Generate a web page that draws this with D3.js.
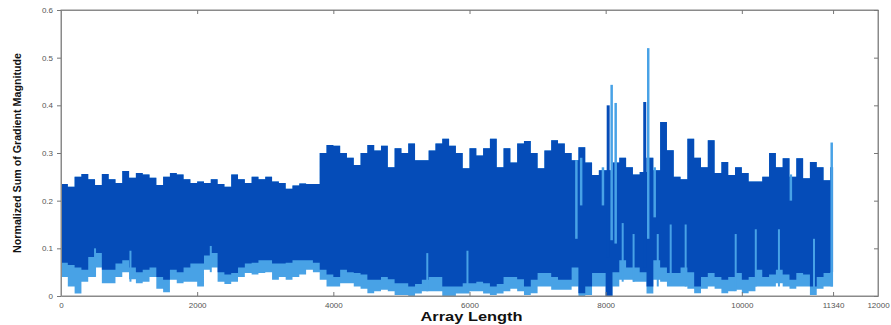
<!DOCTYPE html>
<html>
<head>
<meta charset="utf-8">
<script src="https://cdn.jsdelivr.net/npm/d3@7"></script>
<style>
  body { margin: 0; background: #fff; }
  text { font-family: "Liberation Sans", Arial, sans-serif; }
</style>
</head>
<body>
<div id="chart"></div>
<script>
// envelope of the signal, one value per 100 samples
const binSize = 100;
const arrayLength = 11340;

const darkTop = [
  0.235,0.229,0.25,0.256,0.245,0.233,0.256,0.245,0.237,0.262,
  0.248,0.258,0.255,0.248,0.233,0.25,0.258,0.255,0.245,0.237,
  0.24,0.237,0.245,0.235,0.229,0.255,0.245,0.237,0.25,0.245,
  0.25,0.24,0.237,0.225,0.232,0.236,0.235,0.235,0.30,0.317,
  0.315,0.30,0.29,0.275,0.30,0.317,0.305,0.315,0.27,0.31,
  0.30,0.32,0.285,0.285,0.305,0.32,0.33,0.315,0.30,0.268,
  0.31,0.295,0.31,0.33,0.27,0.31,0.28,0.32,0.325,0.30,
  0.268,0.305,0.327,0.32,0.30,0.285,0.312,0.28,0.254,0.264,
  0.264,0.28,0.29,0.27,0.255,0.26,0.29,0.264,0.365,0.306,
  0.25,0.245,0.33,0.29,0.27,0.327,0.258,0.281,0.254,0.27,
  0.258,0.24,0.24,0.25,0.30,0.27,0.289,0.25,0.289,0.247,
  0.281,0.27,0.243,0.27
];

const darkBottom = [
  0.07,0.065,0.06,0.055,0.082,0.09,0.055,0.055,0.068,0.075,
  0.06,0.05,0.055,0.06,0.04,0.034,0.055,0.05,0.06,0.068,
  0.068,0.085,0.09,0.05,0.045,0.048,0.06,0.068,0.07,0.075,
  0.075,0.068,0.068,0.07,0.075,0.075,0.075,0.07,0.055,0.045,
  0.04,0.055,0.05,0.048,0.045,0.034,0.034,0.04,0.035,0.027,
  0.027,0.02,0.025,0.034,0.04,0.04,0.02,0.02,0.02,0.027,
  0.027,0.03,0.027,0.02,0.025,0.04,0.04,0.035,0.02,0.034,
  0.048,0.048,0.04,0.034,0.034,0.06,0.006,0.02,0.048,0.048,
  0.0,0.05,0.075,0.06,0.06,0.05,0.02,0.075,0.06,0.048,
  0.048,0.06,0.05,0.02,0.04,0.048,0.04,0.034,0.04,0.048,
  0.034,0.04,0.055,0.04,0.045,0.055,0.045,0.034,0.048,0.045,
  0.02,0.04,0.048,0.05
];

const lightBottom = [
  0.04,0.02,0.005,0.03,0.04,0.06,0.027,0.027,0.04,0.05,
  0.035,0.027,0.03,0.04,0.015,0.008,0.034,0.027,0.03,0.03,
  0.02,0.055,0.06,0.03,0.025,0.03,0.04,0.048,0.045,0.048,
  0.05,0.034,0.04,0.034,0.04,0.045,0.055,0.05,0.034,0.02,
  0.02,0.027,0.027,0.02,0.015,0.006,0.01,0.013,0.01,0.002,
  0.002,0,0.005,0.01,0.01,0.01,0,0,0.005,0.005,
  0.01,0.01,0.005,0.002,0.005,0.01,0.015,0.01,0.002,0.006,
  0.02,0.02,0.013,0.013,0.013,0.02,0,0.002,0.02,0.02,
  0,0.02,0.034,0.034,0.03,0.03,0.005,0.034,0.03,0.02,
  0.02,0.02,0.015,0.006,0.015,0.02,0.015,0.006,0.01,0.013,
  0.006,0.01,0.02,0.02,0.02,0.027,0.02,0.015,0.02,0.02,
  0.002,0.015,0.02,0.02
];

// narrow spikes
const darkPeakX = [8037, 8574];
const darkPeakTop = [0.40, 0.407];
const darkPeakBottom = [0.08, 0.06];

const lightPeakX = [7570, 7640, 7960, 8088, 8147, 8625, 8720, 10720, 11320];
const lightPeakTop = [0.285, 0.29, 0.27, 0.443, 0.405, 0.52, 0.27, 0.255, 0.322];
const lightPeakBottom = [0.12, 0.19, 0.19, 0.117, 0.11, 0.12, 0.165, 0.2, 0.02];

// light streaks showing through the lower part of the band
const streakX = [500, 1020, 2200, 5380, 5970, 8250, 8410, 8765, 8955, 9175, 9910, 10205, 10545, 11060];
const streakTop = [0.1, 0.095, 0.105, 0.09, 0.095, 0.153, 0.13, 0.13, 0.15, 0.15, 0.13, 0.14, 0.14, 0.12];
const streakBottom = [0.04, 0.03, 0.05, 0.01, 0.01, 0.03, 0.03, 0.02, 0.03, 0.02, 0.01, 0.02, 0.02, 0.01];

const xTicks = [0, 2000, 4000, 6000, 8000, 10000, 11340, 12000];
const yTicks = [0, 0.1, 0.2, 0.3, 0.4, 0.5, 0.6];

const width = 891;
const height = 325;
const margin = { top: 10, right: 13, bottom: 29, left: 61 };

const darkColor = "#054cb8";
const lightColor = "#48a2e6";

const svg = d3.select("#chart")
  .append("svg")
  .attr("width", width)
  .attr("height", height);

const x = d3.scaleLinear()
  .domain([0, 12000])
  .range([margin.left, width - margin.right]);

const y = d3.scaleLinear()
  .domain([0, 0.6])
  .range([height - margin.bottom, margin.top]);

const bins = darkTop.map((t, i) => ({
  x: i * binSize,
  top: t,
  bottom: darkBottom[i],
  lightBottom: lightBottom[i]
}));
// closing point so the last step ends at the array length
bins.push({ ...bins[bins.length - 1], x: arrayLength });

const plot = svg.append("g");

const lightArea = d3.area()
  .curve(d3.curveStepAfter)
  .x(d => x(d.x))
  .y0(d => y(d.lightBottom))
  .y1(d => y(d.top));

const darkArea = d3.area()
  .curve(d3.curveStepAfter)
  .x(d => x(d.x))
  .y0(d => y(d.bottom))
  .y1(d => y(d.top));

plot.append("path")
  .datum(bins)
  .attr("d", lightArea)
  .attr("fill", lightColor);

plot.append("path")
  .datum(bins)
  .attr("d", darkArea)
  .attr("fill", darkColor);

plot.selectAll("line.streak")
  .data(streakX)
  .join("line")
  .attr("class", "streak")
  .attr("x1", d => x(d)).attr("x2", d => x(d))
  .attr("y1", (d, i) => y(streakBottom[i]))
  .attr("y2", (d, i) => y(streakTop[i]))
  .attr("stroke", lightColor)
  .attr("stroke-width", 2);

plot.selectAll("line.dpeak")
  .data(darkPeakX)
  .join("line")
  .attr("class", "dpeak")
  .attr("x1", d => x(d)).attr("x2", d => x(d))
  .attr("y1", (d, i) => y(darkPeakBottom[i]))
  .attr("y2", (d, i) => y(darkPeakTop[i]))
  .attr("stroke", darkColor)
  .attr("stroke-width", 3);

plot.selectAll("line.lpeak")
  .data(lightPeakX)
  .join("line")
  .attr("class", "lpeak")
  .attr("x1", d => x(d)).attr("x2", d => x(d))
  .attr("y1", (d, i) => y(lightPeakBottom[i]))
  .attr("y2", (d, i) => y(lightPeakTop[i]))
  .attr("stroke", lightColor)
  .attr("stroke-width", 2.5);

// box + ticks, MATLAB style (ticks inside)
const axisColor = "#8a8a8a";
const tickColor = "#555";

svg.append("rect")
  .attr("x", x(0)).attr("y", y(0.6))
  .attr("width", x(12000) - x(0))
  .attr("height", y(0) - y(0.6))
  .attr("fill", "none")
  .attr("stroke", axisColor)
  .attr("stroke-width", 1);

const xAxis = svg.append("g")
  .attr("transform", `translate(0, ${y(0)})`)
  .call(d3.axisBottom(x).tickValues(xTicks).tickFormat(d3.format("d")).tickSizeInner(-4).tickSizeOuter(0).tickPadding(6));

const xAxisTop = svg.append("g")
  .attr("transform", `translate(0, ${y(0.6)})`)
  .call(d3.axisTop(x).tickValues(xTicks).tickFormat("").tickSizeInner(-4).tickSizeOuter(0));

const yAxis = svg.append("g")
  .attr("transform", `translate(${x(0)}, 0)`)
  .call(d3.axisLeft(y).tickValues(yTicks).tickFormat(d => d === 0 ? "0" : d3.format(".1f")(d)).tickSizeInner(4).tickSizeOuter(0).tickPadding(4));

const yAxisRight = svg.append("g")
  .attr("transform", `translate(${x(12000)}, 0)`)
  .call(d3.axisRight(y).tickValues(yTicks).tickFormat("").tickSizeInner(-4).tickSizeOuter(0));

[xAxis, xAxisTop, yAxis, yAxisRight].forEach(g => {
  g.select(".domain").attr("stroke", axisColor);
  g.selectAll(".tick line").attr("stroke", "#777");
  g.selectAll(".tick text")
    .attr("fill", tickColor)
    .style("font-size", "8px");
});

svg.append("text")
  .attr("x", (x(0) + x(12000)) / 2 + 2)
  .attr("y", 321)
  .attr("text-anchor", "middle")
  .attr("textLength", 102)
  .attr("lengthAdjust", "spacingAndGlyphs")
  .style("font-size", "13px")
  .style("font-weight", "bold")
  .attr("fill", "#111")
  .text("Array Length");

svg.append("text")
  .attr("transform", `translate(21, ${(y(0) + y(0.6)) / 2}) rotate(-90)`)
  .attr("text-anchor", "middle")
  .attr("textLength", 200)
  .attr("lengthAdjust", "spacingAndGlyphs")
  .style("font-family", "'Liberation Sans Narrow', 'Liberation Sans', sans-serif")
  .style("font-size", "11px")
  .style("font-weight", "bold")
  .attr("fill", "#111")
  .text("Normalized Sum of Gradient Magnitude");
</script>
</body>
</html>
